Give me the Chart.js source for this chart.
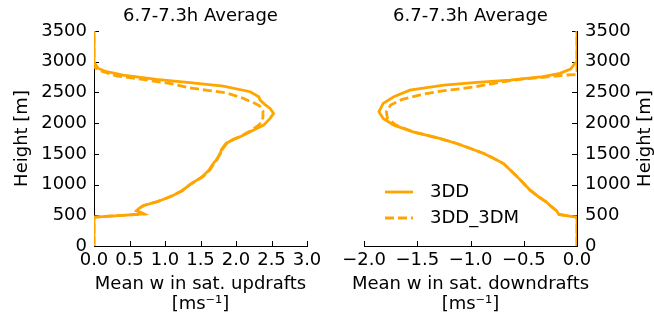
<!DOCTYPE html>
<html>
<head>
<meta charset="utf-8">
<script src="https://cdn.jsdelivr.net/npm/chart.js@4.4.1/dist/chart.umd.min.js"></script>
<style>
  html, body { margin: 0; padding: 0; background: #fff; }
  #wrap { position: relative; width: 654px; height: 318px; }
  .panel { position: absolute; top: 0; width: 327px; height: 318px; }
</style>
</head>
<body>
<div id="wrap">
  <div class="panel" style="left:0"><canvas id="upChart"></canvas></div>
  <div class="panel" style="left:327px"><canvas id="downChart"></canvas></div>
</div>
<script>
/* Mean vertical velocity profiles, 6.7-7.3h average. */
const panelTitle = "6.7-7.3h Average";
const seriesNames = ["3DD", "3DD_3DM"];
const heightLabel = "Height [m]";
const upLabel = ["Mean w in sat. updrafts", "[ms\u207B\u00B9]"];
const downLabel = ["Mean w in sat. downdrafts", "[ms\u207B\u00B9]"];

/* Updrafts, 3DD */
const upHeight3DD = [0, 470, 495, 522, 545, 575, 610, 660, 717, 770,
  826, 900, 962, 1000, 1125, 1235, 1340, 1400, 1500, 1560,
  1610, 1670, 1734, 1780, 1859, 1968, 2077, 2158, 2240, 2310,
  2375, 2430, 2511, 2604, 2658, 2713, 2783, 2837, 2890, 2970,
  3000, 3500];
const upW3DD = [0, 0, 0.35, 0.70, 0.66, 0.60, 0.63, 0.70, 0.88, 1.00,
  1.12, 1.24, 1.31, 1.35, 1.52, 1.62, 1.68, 1.72, 1.78, 1.79,
  1.82, 1.86, 1.96, 2.06, 2.20, 2.39, 2.48, 2.53, 2.48, 2.40,
  2.34, 2.32, 2.20, 1.82, 1.35, 0.88, 0.41, 0.18, 0.06, 0.014,
  0, 0];

/* Updrafts, 3DD_3DM */
const upHeight3DM = [0, 470, 495, 522, 545, 575, 610, 660, 717, 770,
  826, 900, 962, 1000, 1125, 1235, 1340, 1400, 1500, 1560,
  1610, 1670, 1734, 1780, 1859, 1950, 2012, 2100, 2200, 2283,
  2330, 2410, 2494, 2533, 2575, 2641, 2685, 2728, 2766, 2853,
  2900, 2930, 3500];
const upW3DM = [0, 0, 0.35, 0.70, 0.66, 0.60, 0.63, 0.70, 0.88, 1.00,
  1.12, 1.24, 1.31, 1.35, 1.53, 1.63, 1.69, 1.73, 1.77, 1.80,
  1.83, 1.87, 1.96, 2.06, 2.18, 2.30, 2.36, 2.38, 2.38, 2.33,
  2.25, 2.09, 1.86, 1.60, 1.34, 1.10, 0.84, 0.59, 0.33, 0.09,
  0.02, 0, 0];

/* Downdrafts, 3DD */
const downHeight3DD = [0, 470, 478, 495, 515, 540, 570, 640, 720, 800,
  908, 1016, 1125, 1234, 1342, 1424, 1505, 1587, 1669, 1751,
  1859, 1968, 2077, 2185, 2321, 2430, 2538, 2620, 2663, 2701,
  2756, 2810, 2880, 2973, 3000, 3500];
const downW3DD = [0, 0, -0.04, -0.10, -0.17, -0.18, -0.19, -0.24, -0.29, -0.36,
  -0.44, -0.50, -0.56, -0.625, -0.69, -0.78, -0.875, -1.00, -1.13, -1.29,
  -1.54, -1.72, -1.82, -1.86, -1.82, -1.72, -1.57, -1.25, -0.94, -0.63,
  -0.32, -0.16, -0.06, -0.02, 0, 0];

/* Downdrafts, 3DD_3DM */
const downHeight3DM = [0, 470, 478, 495, 515, 540, 570, 640, 720, 800,
  908, 1016, 1125, 1234, 1342, 1424, 1505, 1587, 1669, 1751,
  1859, 1968, 2077, 2185, 2294, 2387, 2457, 2511, 2550, 2592,
  2640, 2674, 2718, 2745, 2783, 2790, 3500];
const downW3DM = [0, 0, -0.04, -0.10, -0.17, -0.18, -0.19, -0.24, -0.29, -0.36,
  -0.44, -0.50, -0.56, -0.625, -0.69, -0.78, -0.875, -1.00, -1.13, -1.29,
  -1.54, -1.70, -1.78, -1.79, -1.75, -1.64, -1.48, -1.32, -1.14, -0.96,
  -0.80, -0.70, -0.52, -0.32, -0.11, 0, 0];

const ORANGE = "#FFA500";
const FONT = { family: "'DejaVu Sans', sans-serif", size: 18 };

Chart.defaults.color = "#000";
Chart.defaults.font.family = FONT.family;
Chart.defaults.font.size = FONT.size;

function points(ws, hs) {
  return ws.map((w, i) => ({ x: w, y: hs[i] }));
}

function fmtTick(v) {
  return v.toFixed(1).replace("-", "\u2212");
}

/* matplotlib style ticks pointing into the axes */
const inwardTicks = {
  id: "inwardTicks",
  beforeDatasetsDraw(chart, args, opts) {
    const { ctx, chartArea: a, scales } = chart;
    const len = 5;
    ctx.save();
    ctx.strokeStyle = "#000";
    ctx.lineWidth = 1;
    ctx.beginPath();
    scales.x.ticks.forEach((t) => {
      const px = Math.round(scales.x.getPixelForValue(t.value)) + 0.5;
      ctx.moveTo(px, a.bottom);
      ctx.lineTo(px, a.bottom - len);
    });
    const right = opts.side === "right";
    const x0 = right ? a.right : a.left;
    scales.y.ticks.forEach((t) => {
      const py = Math.round(scales.y.getPixelForValue(t.value)) + 0.5;
      ctx.moveTo(x0, py);
      ctx.lineTo(x0 + (right ? -len : len), py);
    });
    ctx.stroke();
    ctx.restore();
  },
};

/* x axis title, drawn unclipped (the scale title would be squeezed) */
const xTitle = {
  id: "xTitle",
  afterDraw(chart, args, opts) {
    const { ctx, chartArea: a } = chart;
    const cx = (a.left + a.right) / 2;
    ctx.save();
    ctx.font = FONT.size + "px " + FONT.family;
    ctx.fillStyle = "#000";
    ctx.textAlign = "center";
    ctx.textBaseline = "middle";
    opts.lines.forEach((line, i) => ctx.fillText(line, cx, 284 + i * 20));
    ctx.restore();
  },
};

/* Legend and right-hand axis title for the downdraft panel. */
const downExtras = {
  id: "downExtras",
  afterDraw(chart) {
    const { ctx, chartArea: a } = chart;
    ctx.save();
    ctx.font = FONT.size + "px " + FONT.family;
    ctx.fillStyle = "#000";
    ctx.textBaseline = "middle";
    chart.data.datasets.forEach((ds, i) => {
      const y = 192 + i * 26;
      ctx.strokeStyle = ds.borderColor;
      ctx.lineWidth = ds.borderWidth;
      ctx.setLineDash(ds.borderDash || []);
      ctx.beginPath();
      ctx.moveTo(58, y);
      ctx.lineTo(86, y);
      ctx.stroke();
      ctx.textAlign = "left";
      ctx.fillText(ds.label, 103, y);
    });
    ctx.setLineDash([]);
    ctx.translate(318, (a.top + a.bottom) / 2);
    ctx.rotate(-Math.PI / 2);
    ctx.textAlign = "center";
    ctx.fillText(heightLabel, 0, 0);
    ctx.restore();
  },
};

function makeDatasets(w1, h1, w2, h2) {
  return [
    {
      label: seriesNames[0],
      data: points(w1, h1),
      borderColor: ORANGE,
      borderWidth: 2.8,
      showLine: true,
      pointRadius: 0,
      tension: 0,
    },
    {
      label: seriesNames[1],
      data: points(w2, h2),
      borderColor: ORANGE,
      borderWidth: 2.8,
      borderDash: [9, 4],
      showLine: true,
      pointRadius: 0,
      tension: 0,
    },
  ];
}

function makeOptions(side, xmin, xmax, xLines) {
  const right = side === "right";
  return {
    responsive: true,
    maintainAspectRatio: false,
    animation: false,
    layout: { padding: { left: right ? 37 : 0, right: right ? 0 : 20, top: 0, bottom: 0 } },
    plugins: {
      legend: { display: false },
      tooltip: { enabled: false },
      title: {
        display: true,
        text: panelTitle,
        fullSize: false,
        color: "#000",
        font: { size: FONT.size, weight: "normal", lineHeight: 1.2 },
        padding: { top: 6, bottom: 3.4 },
      },
      inwardTicks: { side: side },
      xTitle: { lines: xLines },
    },
    scales: {
      x: {
        type: "linear",
        min: xmin,
        max: xmax,
        grid: { display: false, drawTicks: false },
        border: { display: true, color: "#000", width: 1 },
        ticks: { stepSize: 0.5, padding: 4, callback: fmtTick, maxRotation: 0 },
        afterFit: (s) => { s.height = 72; },
      },
      y: {
        type: "linear",
        position: side,
        min: 0,
        max: 3500,
        grid: { display: false, drawTicks: false },
        border: { display: true, color: "#000", width: 1 },
        ticks: { stepSize: 500, padding: right ? 8 : 7, callback: (v) => String(v) },
        title: {
          display: !right,
          text: heightLabel,
          font: { size: FONT.size, lineHeight: 1.2 },
          padding: { top: 12, bottom: 0 },
        },
        afterFit: (s) => { s.width = right ? 77 : 94; },
      },
    },
  };
}

new Chart(document.getElementById("upChart"), {
  type: "scatter",
  data: { datasets: makeDatasets(upW3DD, upHeight3DD, upW3DM, upHeight3DM) },
  options: makeOptions("left", 0, 3, upLabel),
  plugins: [inwardTicks, xTitle],
});

new Chart(document.getElementById("downChart"), {
  type: "scatter",
  data: { datasets: makeDatasets(downW3DD, downHeight3DD, downW3DM, downHeight3DM) },
  options: makeOptions("right", -2, 0, downLabel),
  plugins: [inwardTicks, xTitle, downExtras],
});
</script>
</body>
</html>
